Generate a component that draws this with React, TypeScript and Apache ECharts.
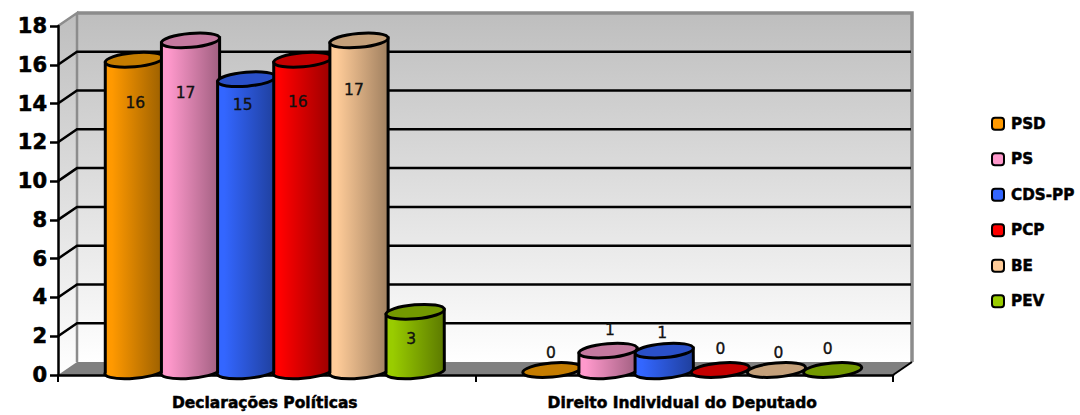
import React, { useEffect, useRef } from "react";
import * as echarts from "echarts";

const categories = ["Declarações Políticas", "Direito Individual do Deputado"];
const parties = ["PSD", "PS", "CDS-PP", "PCP", "BE", "PEV"];
const psd = [16, 0];
const ps = [17, 1];
const cdsPp = [15, 1];
const pcp = [16, 0];
const be = [17, 0];
const pev = [3, 0];
const yTicks = [0, 2, 4, 6, 8, 10, 12, 14, 16, 18];

const seriesValues = [psd, ps, cdsPp, pcp, be, pev];
const baseColors = ["#FF9900", "#FF99CC", "#3366FF", "#FF0000", "#FFCC99", "#99CC00"];
const darkColors = ["#9A5F00", "#A05F80", "#1F3F9C", "#990000", "#A08060", "#5C7A00"];
const topColors = ["#C47C00", "#C4799F", "#2A50C8", "#C40000", "#C4A07A", "#739900"];

// Hand placement of the value labels, relative to the value's position: [dx, dy]
const labelNudges = [
  [[1, 38], [-1, -22]],
  [[-5, 48], [2, -26]],
  [[-4, 21], [-2, -23]],
  [[-5, 37], [0, -26]],
  [[-5, 45], [2, -22]],
  [[-4, 22], [-5, -26]],
];

const DEPTH_X = 19;
const DEPTH_Y = 13;
const TILT = 5;
const FONT = "'DejaVu Sans', sans-serif";

function wallsItem(params: any) {
  const { x, y, width: w, height: h } = params.coordSys;
  const grey = "#8C8C8C";
  const wallFill = new echarts.graphic.LinearGradient(0, 0, 0, 1, [
    { offset: 0, color: "#BEBEBE" },
    { offset: 1, color: "#FFFFFF" },
  ]);
  const bl = { x, y: y + h };
  return {
    type: "group",
    children: [
      {
        type: "rect",
        shape: { x: x + DEPTH_X, y: y - DEPTH_Y, width: w, height: h },
        style: { fill: wallFill, stroke: null },
      },
      {
        type: "polygon",
        shape: { points: [[x, y], [x + DEPTH_X, y - DEPTH_Y], [x + DEPTH_X, y + h - DEPTH_Y], [bl.x, bl.y]] },
        style: { fill: wallFill, stroke: null },
      },
      {
        type: "polygon",
        shape: { points: [[bl.x, bl.y], [x + DEPTH_X, bl.y - DEPTH_Y], [x + w + DEPTH_X, bl.y - DEPTH_Y], [x + w, bl.y]] },
        style: { fill: "#808080", stroke: null },
      },
      {
        type: "polyline",
        shape: { points: [[x, y], [x + DEPTH_X, y - DEPTH_Y], [x + DEPTH_X, bl.y - DEPTH_Y]] },
        style: { fill: null, stroke: grey, lineWidth: 2.5 },
      },
      {
        type: "polyline",
        shape: { points: [[x + DEPTH_X, y - DEPTH_Y], [x + w + DEPTH_X, y - DEPTH_Y], [x + w + DEPTH_X, bl.y - DEPTH_Y]] },
        style: { fill: null, stroke: grey, lineWidth: 3.5 },
      },
      {
        type: "line",
        shape: { x1: x + w, y1: bl.y, x2: x + w + DEPTH_X, y2: bl.y - DEPTH_Y },
        style: { stroke: "#000", lineWidth: 2 },
      },
    ],
  };
}

function gridItem(params: any, api: any) {
  const v = api.value(1);
  const { x, width: w } = params.coordSys;
  const py = api.coord([0, v])[1];
  if (v === 0 || v === 18) return { type: "group", children: [] };
  return {
    type: "polyline",
    shape: { points: [[x, py], [x + DEPTH_X, py - DEPTH_Y], [x + w + DEPTH_X - 1, py - DEPTH_Y]] },
    style: { fill: null, stroke: "#000", lineWidth: 2.5 },
  };
}

function cylinderItem(seriesIdx: number) {
  return (params: any, api: any) => {
    const cat = api.value(0);
    const v = api.value(1);
    const band = api.size([1, 0])[0];
    const step = band * 0.1345;
    const rx = step * 0.52;
    const ry = 7;
    const center = api.coord([cat, 0])[0];
    const cx = center + (seriesIdx - 2.5) * step + 8;
    const zeroY = api.coord([cat, 0])[1];
    const valY = api.coord([cat, v])[1];
    const topCy = valY - 5;
    const botCy = zeroY - 5;
    const rad = (TILT * Math.PI) / 180;
    const ex = rx * Math.cos(rad);
    const ey = rx * Math.sin(rad);
    const children: any[] = [];
    if (v > 0) {
      const d =
        `M ${cx - ex} ${topCy + ey} L ${cx - ex} ${botCy + ey} ` +
        `A ${rx} ${ry} ${-TILT} 0 0 ${cx + ex} ${botCy - ey} ` +
        `L ${cx + ex} ${topCy - ey} Z`;
      children.push({
        type: "path",
        shape: { pathData: d },
        style: {
          fill: new echarts.graphic.LinearGradient(0, 0, 1, 0, [
            { offset: 0, color: baseColors[seriesIdx] },
            { offset: 0.12, color: baseColors[seriesIdx] },
            { offset: 1, color: darkColors[seriesIdx] },
          ]),
          stroke: "#000",
          lineWidth: 3,
        },
      });
    }
    children.push({
      type: "ellipse",
      x: cx,
      y: topCy,
      rotation: rad,
      shape: { cx: 0, cy: 0, rx, ry },
      style: { fill: topColors[seriesIdx], stroke: "#000", lineWidth: 3 },
    });
    const [dx, dy] = labelNudges[seriesIdx][cat];
    children.push({
      type: "text",
      z2: 50,
      x: cx + dx,
      y: valY + dy,
      style: {
        text: String(v),
        fill: "#111",
        stroke: "#111",
        lineWidth: 0.35,
        font: `15.5px ${FONT}`,
        align: "center",
        verticalAlign: "middle",
      },
    });
    return { type: "group", children };
  };
}

export default function App() {
  const ref = useRef<HTMLDivElement>(null);
  useEffect(() => {
    document.body.style.margin = "0";
    document.body.style.overflow = "hidden";
    const chart = echarts.init(ref.current!, null, { renderer: "svg" });
    chart.setOption({
      animation: false,
      backgroundColor: "#fff",
      grid: { left: 58, right: 187, top: 26, bottom: 40 },
      legend: {
        data: parties,
        orient: "vertical",
        left: 986,
        top: 111,
        itemWidth: 12,
        itemHeight: 12,
        itemGap: 20,
        icon: "roundRect",
        selectedMode: false,
        itemStyle: { borderColor: "#000", borderWidth: 2 },
        textStyle: {
          color: "#000",
          fontFamily: FONT,
          fontWeight: "bold",
          fontSize: 15.2,
          padding: [0, 0, 0, 2],
          textBorderColor: "#000",
          textBorderWidth: 0.5,
        },
      },
      xAxis: {
        type: "category",
        data: categories,
        boundaryGap: true,
        axisLine: { lineStyle: { color: "#000", width: 2.5 } },
        axisTick: { show: true, length: 7, alignWithLabel: false, lineStyle: { color: "#000", width: 2 } },
        axisLabel: {
          color: "#000",
          fontFamily: FONT,
          fontWeight: "bold",
          fontSize: 15.5,
          margin: 20,
          padding: [0, 4, 0, 0],
          textBorderColor: "#000",
          textBorderWidth: 0.5,
        },
      },
      yAxis: {
        type: "value",
        min: 0,
        max: 18,
        interval: 2,
        splitLine: { show: false },
        axisLine: { show: true, lineStyle: { color: "#000", width: 2.5 } },
        axisTick: { show: true, length: 8, lineStyle: { color: "#000", width: 2.5 } },
        axisLabel: {
          color: "#000",
          fontFamily: FONT,
          fontWeight: "bold",
          fontSize: 21,
          margin: 11,
          textBorderColor: "#000",
          textBorderWidth: 0.6,
        },
      },
      series: [
        {
          type: "custom",
          name: "walls",
          z: -2,
          silent: true,
          clip: false,
          data: [[0, 0]],
          renderItem: wallsItem,
        },
        {
          type: "custom",
          name: "grid",
          z: -1,
          silent: true,
          clip: false,
          data: yTicks.map((t) => [0, t]),
          renderItem: gridItem,
        },
        ...parties.map((name, i) => ({
          type: "custom",
          name,
          z: 3 + i,
          clip: false,
          itemStyle: { color: baseColors[i] },
          data: seriesValues[i].map((v, c) => [c, v]),
          renderItem: cylinderItem(i),
        })),
      ],
    });
    return () => chart.dispose();
  }, []);
  return <div ref={ref} style={{ position: "absolute", left: 0, top: 0, width: 1080, height: 415 }} />;
}
